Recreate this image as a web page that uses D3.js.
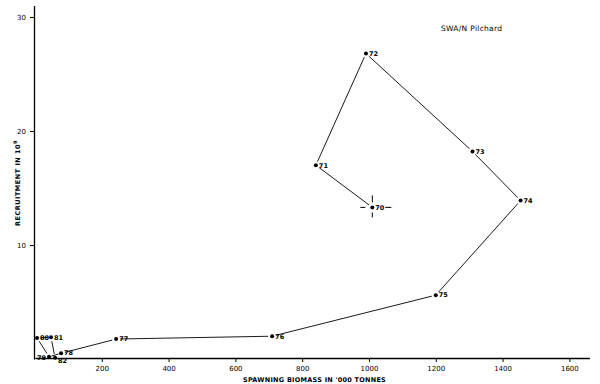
<!DOCTYPE html>
<html><head><meta charset="utf-8">
<script src="https://cdn.jsdelivr.net/npm/d3@7"></script>
<style>
body{margin:0;background:#fff;}
svg{display:block;font-family:"DejaVu Sans",sans-serif;}
</style></head>
<body>
<svg id="c" width="600" height="384"></svg>
<script>
// Data: spawning biomass ('000 tonnes) vs recruitment (10^9), by year
const years   = ["70","71","72","73","74","75","76","77","78","79","80","81","82"];
const biomass = [1010, 841, 991, 1310, 1454, 1200, 710, 243, 78, 42, 6, 48, 60];
const recruit = [13.3, 17.0, 26.8, 18.2, 13.9, 5.6, 2.0, 1.75, 0.5, 0.2, 1.85, 1.9, 0.1];
const xTicks = [200, 400, 600, 800, 1000, 1200, 1400, 1600];
const xTickLabels = ["200","400","600","800","1000","1200","1400","1600"];
const yTicks = [10, 20, 30];
const title = "SWA/N Pilchard";
const xTitle = "SPAWNING BIOMASS IN '000 TONNES";
const yTitle = "RECRUITMENT IN 10";

const svg = d3.select("#c");
const x = d3.scaleLinear().domain([0, 1660]).range([35, 589.4]);
const y = d3.scaleLinear().domain([0, 31]).range([359, 5.6]);

// axes
const gx = svg.append("g").attr("transform", "translate(0,358)")
  .call(d3.axisBottom(x).tickValues(xTicks).tickFormat((d,i)=>xTickLabels[i]).tickSize(4).tickSizeOuter(0));
const gy = svg.append("g").attr("transform", "translate(34,0)")
  .call(d3.axisLeft(y).tickValues(yTicks).tickSize(4).tickSizeOuter(0));
[gx, gy].forEach(g => {
  g.selectAll("path.domain").attr("stroke", "#000").attr("stroke-width", 1.3);
  g.selectAll(".tick line").attr("stroke", "#000").attr("stroke-width", 1);
  g.selectAll("text").attr("font-size", 7).attr("fill", "#000").attr("font-family", "DejaVu Sans");
});
gx.selectAll("text").attr("dy", "0.9em");
gy.selectAll("text").attr("dx", "-1px");

// axis titles
svg.append("text").attr("x", 243).attr("y", 382)
  .attr("font-size", 6.5).attr("font-weight", "bold").attr("letter-spacing", 0.25)
  .text(xTitle);
const yt = svg.append("text").attr("transform", "translate(20,226) rotate(-90)")
  .attr("font-size", 6.5).attr("font-weight", "bold").attr("letter-spacing", 0.5);
yt.append("tspan").text(yTitle);
yt.append("tspan").attr("dy", -3).attr("font-size", 5).text("9");

// title
svg.append("text").attr("x", 441).attr("y", 31).attr("font-size", 7.5)
  .attr("letter-spacing", 0.3).text(title);

// connecting lines (shortened slightly at each end)
const pts = years.map((yr, i) => ({yr, px: x(biomass[i]), py: y(recruit[i])}));
const segs = d3.pairs(pts);
svg.append("g").selectAll("line").data(segs).join("line")
  .each(function([a, b]) {
    const dx = b.px - a.px, dy = b.py - a.py, L = Math.hypot(dx, dy);
    const s = Math.min(4, L * 0.2);
    d3.select(this)
      .attr("x1", a.px + dx / L * s).attr("y1", a.py + dy / L * s)
      .attr("x2", b.px - dx / L * s).attr("y2", b.py - dy / L * s);
  })
  .attr("stroke", "#000").attr("stroke-width", 0.9);

// crosshair error bars on 1970 point
const p70 = pts[0];
const ch = svg.append("g").attr("stroke", "#000").attr("stroke-width", 1);
ch.append("line").attr("x1", p70.px - 12).attr("x2", p70.px - 7).attr("y1", p70.py).attr("y2", p70.py);
ch.append("line").attr("x1", p70.px + 13).attr("x2", p70.px + 19).attr("y1", p70.py).attr("y2", p70.py);
ch.append("line").attr("x1", p70.px).attr("x2", p70.px).attr("y1", p70.py - 12).attr("y2", p70.py - 5);
ch.append("line").attr("x1", p70.px).attr("x2", p70.px).attr("y1", p70.py + 5).attr("y2", p70.py + 10);

// markers
svg.append("g").selectAll("circle").data(pts).join("circle")
  .attr("cx", d => d.px).attr("cy", d => d.py).attr("r", 2).attr("fill", "#000");

// labels
const leftLabels = new Set(["79"]);
const dyOff = {"78": -1, "82": 2.5, "79": 1};
svg.append("g").selectAll("text").data(pts).join("text")
  .attr("x", d => leftLabels.has(d.yr) ? d.px - 3 : d.px + 3)
  .attr("y", d => d.py + 2.3 + (dyOff[d.yr] || 0))
  .attr("text-anchor", d => leftLabels.has(d.yr) ? "end" : "start")
  .attr("font-size", 6.5).attr("font-weight", "bold")
  .text(d => d.yr);
</script>
</body></html>
